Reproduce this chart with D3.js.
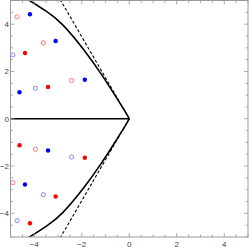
<!DOCTYPE html>
<html>
<head>
<meta charset="utf-8">
<script src="https://cdn.jsdelivr.net/npm/d3@7"></script>
<style>
  html, body { margin: 0; padding: 0; background: #fff; }
</style>
</head>
<body>
<div id="chart"></div>
<script>
// tick values
const majorTicks = [-4, -2, 0, 2, 4];
const minorTicks = [-5, -4.5, -4, -3.5, -3, -2.5, -2, -1.5, -1, -0.5, 0, 0.5, 1, 1.5, 2, 2.5, 3, 3.5, 4, 4.5, 5];

// solid boundary curve (upper half)
const curveX = [0, -0.17, -0.7, -1.2, -1.9, -2.8, -3.5, -4.2, -4.6];
const curveY = [0, 0.3, 1.15, 1.92, 2.9, 3.97, 4.55, 5.0, 5.25];

// dashed ray
const rayX = [0, -3.0];
const rayY = [0, 5.2];

// point series
const blueFilledX = [-4.18, -3.10, -4.62, -1.87, -4.39, -3.42];
const blueFilledY = [4.42, 3.29, 1.12, 1.65, -2.78, -1.34];
const redFilledX = [-4.39, -3.42, -4.18, -3.10, -4.62, -1.87];
const redFilledY = [2.78, 1.34, -4.42, -3.29, -1.12, -1.65];
const redOpenX = [-4.72, -3.62, -2.43, -4.90, -3.95];
const redOpenY = [4.31, 3.21, 1.62, -2.70, -1.29];
const blueOpenX = [-4.90, -3.95, -4.72, -3.62, -2.43];
const blueOpenY = [2.70, 1.29, -4.31, -3.21, -1.62];

const W = 249, H = 250;
const x = d3.scaleLinear().domain([-5, 5]).range([10.5, 248]);
const y = d3.scaleLinear().domain([-5, 5]).range([237, 0.5]);

const svg = d3.select("#chart").append("svg")
    .attr("width", W).attr("height", H);

svg.append("defs").append("clipPath").attr("id", "clip")
    .append("rect")
    .attr("x", x(-5)).attr("y", y(5))
    .attr("width", x(5) - x(-5)).attr("height", y(-5) - y(5));

const plot = svg.append("g").attr("clip-path", "url(#clip)");

const line = d3.line().x(d => x(d[0])).y(d => y(d[1])).curve(d3.curveNatural);

const upper = curveX.map((v, i) => [v, curveY[i]]);
const lower = upper.map(d => [d[0], -d[1]]);

// horizontal segment on the negative axis
plot.append("path")
    .attr("d", d3.line().x(d => x(d[0])).y(d => y(d[1]))([[-5, 0], [0, 0]]))
    .attr("stroke", "#000").attr("stroke-width", 1.6).attr("fill", "none");

[upper, lower].forEach(pts => {
    plot.append("path")
        .attr("d", line(pts))
        .attr("stroke", "#000").attr("stroke-width", 1.6).attr("fill", "none");
});

[1, -1].forEach(s => {
    const pts = rayX.map((v, i) => [v, s * rayY[i]]);
    plot.append("path")
        .attr("d", d3.line().x(d => x(d[0])).y(d => y(d[1]))(pts))
        .attr("stroke", "#000").attr("stroke-width", 1.1)
        .attr("stroke-dasharray", "3,2").attr("fill", "none");
});

function dots(xs, ys, filled, color) {
    plot.selectAll(null)
        .data(xs.map((v, i) => [v, ys[i]]))
        .enter()
        .append("circle")
        .attr("cx", d => x(d[0]))
        .attr("cy", d => y(d[1]))
        .attr("r", filled ? 2.2 : 2.1)
        .attr("fill", filled ? color : "none")
        .attr("stroke", filled ? "none" : color)
        .attr("stroke-width", 1);
}
dots(redOpenX, redOpenY, false, "#f77");
dots(blueOpenX, blueOpenY, false, "#88f");
dots(blueFilledX, blueFilledY, true, "#00f");
dots(redFilledX, redFilledY, true, "#f00");

// frame with inward ticks
const frameColor = "#999";
const x0 = x(-5), x1 = x(5), y0 = y(-5), y1 = y(5);
svg.append("rect")
    .attr("x", x0).attr("y", y1)
    .attr("width", x1 - x0).attr("height", y0 - y1)
    .attr("fill", "none").attr("stroke", frameColor).attr("stroke-width", 1);

const tickLen = v => majorTicks.includes(v) ? 4 : 2.5;
const ticks = svg.append("g").attr("stroke", frameColor).attr("stroke-width", 0.8);
minorTicks.forEach(v => {
    const L = tickLen(v);
    ticks.append("line").attr("x1", x(v)).attr("x2", x(v)).attr("y1", y0).attr("y2", y0 - L);
    ticks.append("line").attr("x1", x(v)).attr("x2", x(v)).attr("y1", y1).attr("y2", y1 + L);
    ticks.append("line").attr("y1", y(v)).attr("y2", y(v)).attr("x1", x0).attr("x2", x0 + L);
    ticks.append("line").attr("y1", y(v)).attr("y2", y(v)).attr("x1", x1).attr("x2", x1 - L);
});

const fmt = v => v < 0 ? "\u2212" + Math.abs(v) : String(v);
const labels = svg.append("g")
    .style("font-family", "Liberation Sans, Arial, sans-serif")
    .style("font-size", "8px")
    .attr("fill", "#444");

majorTicks.forEach(v => {
    labels.append("text")
        .attr("x", x(v)).attr("y", H - 3)
        .attr("text-anchor", "middle")
        .text(fmt(v));
    labels.append("text")
        .attr("x", x0 - 1.5).attr("y", y(v))
        .attr("dy", "0.35em")
        .attr("text-anchor", "end")
        .text(fmt(v));
});
</script>
</body>
</html>
